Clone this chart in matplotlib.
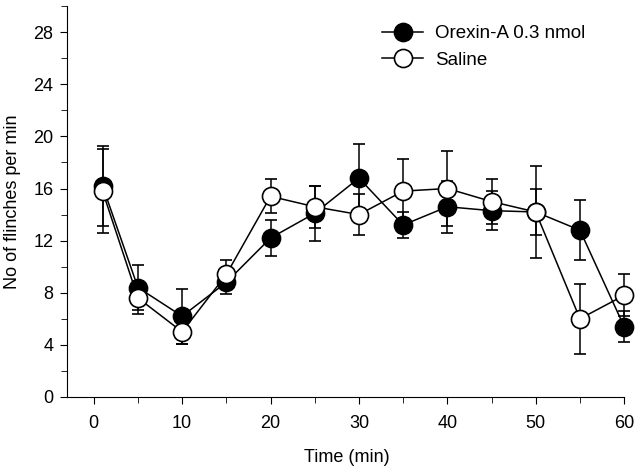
import matplotlib
matplotlib.use("Agg")
import matplotlib.pyplot as plt
from matplotlib.ticker import MultipleLocator

plt.rcParams['font.family'] = ['Liberation Sans', 'DejaVu Sans']

time = [1, 5, 10, 15, 20, 25, 30, 35, 40, 45, 50, 55, 60]
orexin = [16.2, 8.4, 6.2, 8.8, 12.2, 14.1, 16.8, 13.2, 14.6, 14.3, 14.2, 12.8, 5.4]
orexin_err = [3.1, 1.7, 2.1, 0.9, 1.4, 2.1, 2.6, 1.0, 2.0, 1.5, 3.5, 2.3, 1.2]
saline = [15.8, 7.6, 5.0, 9.4, 15.4, 14.6, 14.0, 15.8, 16.0, 15.0, 14.2, 6.0, 7.8]
saline_err = [3.2, 1.2, 0.9, 1.1, 1.3, 1.6, 1.6, 2.5, 2.9, 1.7, 1.8, 2.7, 1.6]

fig = plt.figure(figsize=(6.4, 4.72), dpi=100)
ax = fig.add_axes([0.105, 0.159, 0.873, 0.828])

for vals, errs, fc, lab, z in [(orexin, orexin_err, 'black', 'Orexin-A 0.3 nmol', 3),
                               (saline, saline_err, 'white', 'Saline', 4)]:
    eb = ax.errorbar(time, vals, yerr=errs, color='black', marker='o', ms=13,
                     mfc=fc, mec='black', mew=1.2, lw=1.1, elinewidth=1.1, capsize=4.5,
                     capthick=1.1, label=lab, zorder=z)
    arts = [eb.lines[0]] + list(eb.lines[1]) + list(eb.lines[2])
    for art in arts:
        art.set_clip_on(False)

ax.set_xlim(-3, 60.2)
ax.set_ylim(0, 30)
ax.spines['top'].set_visible(False)
ax.spines['right'].set_visible(False)
ax.spines['bottom'].set_bounds(-3, 60)
ax.set_xticks(range(0, 61, 10))
ax.set_yticks(range(0, 29, 4))
ax.xaxis.set_minor_locator(MultipleLocator(5))
ax.yaxis.set_minor_locator(MultipleLocator(2))
ax.tick_params(which='both', direction='out', labelsize=13)
ax.tick_params(which='major', length=5)
ax.tick_params(which='minor', length=4)
ax.tick_params(axis='x', which='major', pad=8)
ax.tick_params(axis='y', which='major', pad=5)
ax.set_xlabel('Time (min)', fontsize=13, labelpad=12)
ax.set_ylabel('No of flinches per min', fontsize=13, labelpad=9)

handles, labels = ax.get_legend_handles_labels()
handles = [h[0] for h in handles]
fig.legend(handles, labels, loc='upper left', bbox_to_anchor=(382 / 640, 1 - 25 / 472),
           frameon=False, fontsize=13.5, handlelength=2.2, labelspacing=0.5,
           handletextpad=0.65, borderpad=0, borderaxespad=0)

fig.savefig('out.png', dpi=100)
